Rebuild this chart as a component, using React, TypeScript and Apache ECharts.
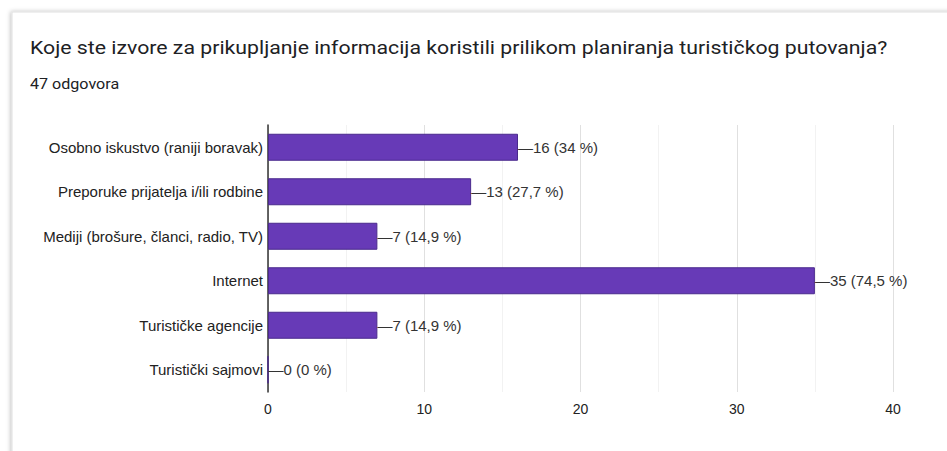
import React, { useEffect, useRef } from "react";
import * as echarts from "echarts";

const titleText = "Koje ste izvore za prikupljanje informacija koristili prilikom planiranja turističkog putovanja?";
const subtitleText = "47 odgovora";
const categories = [
  "Osobno iskustvo (raniji boravak)",
  "Preporuke prijatelja i/ili rodbine",
  "Mediji (brošure, članci, radio, TV)",
  "Internet",
  "Turističke agencije",
  "Turistički sajmovi",
];
const counts = [16, 13, 7, 35, 7, 0];
const percents = ["34", "27,7", "14,9", "74,5", "14,9", "0"];
const xTicks = { min: 0, max: 40, interval: 10 };

export default function App() {
  const ref = useRef<HTMLDivElement>(null);
  useEffect(() => {
    if (!ref.current) return;
    const chart = echarts.init(ref.current, undefined, { renderer: "svg" });
    const font = "Arial, 'Liberation Sans', sans-serif";
    chart.setOption({
      animation: false,
      backgroundColor: "#ffffff",
      textStyle: { fontFamily: font },
      graphic: [
        {
          type: "rect",
          z: -10,
          shape: { x: 12, y: 12, width: 960, height: 460 },
          style: {
            fill: "#ffffff",
            stroke: "#e0e0e0",
            lineWidth: 1,
            shadowBlur: 4,
            shadowColor: "rgba(0,0,0,0.25)",
            shadowOffsetX: -1,
            shadowOffsetY: 0,
          },
        },
        {
          type: "text",
          x: 30,
          y: 47,
          scaleX: 1.12,
          style: {
            text: titleText,
            fontSize: 19,
            fontFamily: "Roboto, Arial, sans-serif",
            fill: "#202124",
            verticalAlign: "middle",
          },
        },
        {
          type: "text",
          x: 30,
          y: 84,
          scaleX: 1.15,
          style: {
            text: subtitleText,
            fontSize: 14,
            fontFamily: "Roboto, Arial, sans-serif",
            fill: "#202124",
            verticalAlign: "middle",
          },
        },
      ],
      grid: { left: 268, right: 54, top: 125, bottom: 59, containLabel: false },
      xAxis: {
        type: "value",
        min: xTicks.min,
        max: xTicks.max,
        interval: xTicks.interval,
        axisLine: { show: false },
        axisTick: { show: false },
        axisLabel: { color: "#222", fontSize: 14, margin: 10, fontFamily: font },
        splitLine: { show: true, lineStyle: { color: "#e0e0e0", width: 1 } },
        minorTick: { show: false, splitNumber: 2 },
        minorSplitLine: { show: true, lineStyle: { color: "#f2f2f2", width: 1 } },
      },
      yAxis: {
        type: "category",
        inverse: true,
        data: categories,
        axisLine: { show: true, lineStyle: { color: "#333", width: 1.5 } },
        axisTick: { show: false },
        axisLabel: { color: "#222", fontSize: 15, margin: 5, fontFamily: font },
        splitLine: { show: false },
      },
      series: [
        {
          type: "bar",
          data: counts,
          barWidth: 27,
          itemStyle: { color: "#673ab7", borderColor: "#4a2a8c", borderWidth: 1 },
          label: {
            show: true,
            position: "right",
            distance: 0,
            color: "#333",
            fontSize: 15,
            fontFamily: font,
            formatter: (p: any) => "—" + counts[p.dataIndex] + " (" + percents[p.dataIndex] + " %)",
          },
        },
      ],
    });
    return () => chart.dispose();
  }, []);
  return (
    <div
      ref={ref}
      style={{ position: "absolute", left: 0, top: 0, width: 947, height: 451 }}
    />
  );
}
